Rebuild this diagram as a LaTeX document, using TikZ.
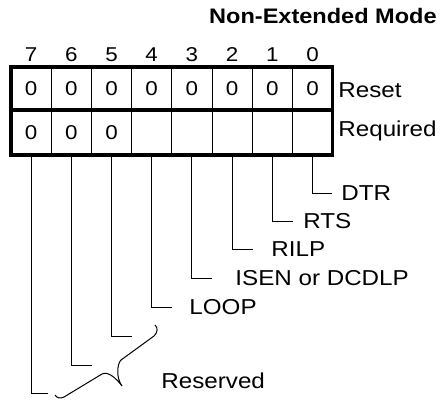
\documentclass[tikz,border=0pt]{standalone}
\usepackage{fontspec}
\setmainfont{Liberation Sans}[FakeStretch=1.12]
\usetikzlibrary{positioning}

\begin{document}
\begin{tikzpicture}[
  x=0.5pt, y=-0.5pt,
  cell/.style={draw, line width=0.5pt, minimum width=20.1pt, minimum height=21.5pt, inner sep=0pt, outer sep=0pt, font=\fontsize{10}{12}\selectfont},
  bitnum/.style={inner sep=0pt, font=\fontsize{10}{12}\selectfont},
  frame/.style={line width=1.6pt},
  lead/.style={line width=0.5pt},
  lbl/.style={anchor=west, inner sep=0pt, font=\fontsize{10.8}{13}\selectfont}
]
\useasboundingbox (0,0) rectangle (442,400);

\node[anchor=east, inner sep=0pt, font=\fontsize{10.5}{14}\selectfont\bfseries] (title) at (437,16) {Non-Extended Mode};

% register cells
\foreach \b [evaluate=\b as \x using {31.1+40.2*(7-\b)}] in {7,...,0} {
  \node[bitnum] (bit\b) at (\x,55) {\b};
  \node[cell] (rst\b) at (\x,88.5) {0};
  \node[cell, minimum height=22.5pt] (req\b) at (\x,132.5) {\ifnum\b>4 0\fi};
}
\draw[frame] (rst7.north west) rectangle (rst0.south east);
\draw[frame] (req7.north west) rectangle (req0.south east);

\node[lbl] (reset) at (338,90) {Reset};
\node[lbl] (required) at (338,131) {Required};

% bit names
\node[lbl] (dtr) at (341,193) {DTR};
\node[lbl] (rts) at (303,221) {RTS};
\node[lbl] (rilp) at (271,249) {RILP};
\node[lbl] (isen) at (235,278) {ISEN or DCDLP};
\node[lbl] (loop) at (189,307) {LOOP};
\node[lbl] (reserved) at (161,381) {Reserved};

\draw[lead, shorten >=4.5pt] (req0.south) |- (dtr.west);
\draw[lead, shorten >=5pt] (req1.south) |- (rts.west);
\draw[lead, shorten >=9pt] (req2.south) |- (rilp.west);
\draw[lead, shorten >=11.5pt] (req3.south) |- (isen.west);
\draw[lead, shorten >=8.5pt] (req4.south) |- (loop.west);

% reserved bits
\coordinate (end5) at (132,336);
\coordinate (end6) at (92,365);
\coordinate (end7) at (48,393);
\draw[lead] (req5.south) |- (end5);
\draw[lead] (req6.south) |- (end6);
\draw[lead] (req7.south) |- (end7);

% brace
\draw[lead] (155,325) .. controls (158,328) and (158,332) .. (154,336) -- (121,360)
  .. controls (117,364) and (116,378) .. (122,386)
  .. controls (116,378) and (108,371) .. (102,374) -- (64,397)
  .. controls (60,399) and (57,398) .. (55,395);
\end{tikzpicture}
\end{document}
